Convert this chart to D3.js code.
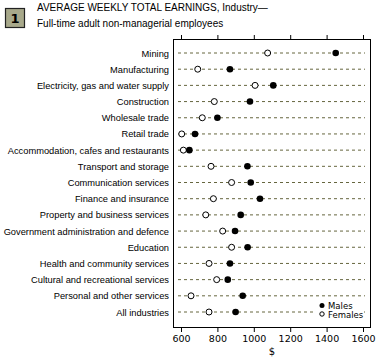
<!DOCTYPE html>
<html>
<head>
<meta charset="utf-8">
<script src="https://cdn.jsdelivr.net/npm/d3@7"></script>
<style>
  body { margin: 0; background: #fff; }
  svg { display: block; }
  .cat { font-family: 'Liberation Sans Narrow', 'Arial Narrow', sans-serif; font-size: 9.3px; }
  .title { font-family: 'Liberation Sans', Arial, sans-serif; font-size: 10px; }
  .tick text { font-family: 'DejaVu Sans', sans-serif; font-size: 9.5px; }
</style>
</head>
<body>
<svg width="378" height="359"></svg>
<script>
const svg = d3.select('svg');

const industries = [
  'Mining', 'Manufacturing', 'Electricity, gas and water supply', 'Construction',
  'Wholesale trade', 'Retail trade', 'Accommodation, cafes and restaurants',
  'Transport and storage', 'Communication services', 'Finance and insurance',
  'Property and business services', 'Government administration and defence',
  'Education', 'Health and community services', 'Cultural and recreational services',
  'Personal and other services', 'All industries'
];
const males = [1450, 869, 1107, 979, 800, 677, 646, 965, 983, 1034, 928, 897, 966, 869, 857, 939, 900];
const females = [1076, 692, 1007, 783, 717, 604, 613, 765, 878, 778, 736, 829, 878, 754, 796, 655, 754];
const xTicks = [600, 800, 1000, 1200, 1400, 1600];

const margin = { top: 39, left: 173, right: 7, bottom: 31 };
const innerWidth = 378 - margin.left - margin.right;
const innerHeight = 359 - margin.top - margin.bottom;

const xScale = d3.scaleLinear().domain([600, 1600]).range([8, 190]);
const yScale = d3.scalePoint().domain(industries).range([14, 273]);

// badge + title
svg.append('rect')
  .attr('x', 5.5).attr('y', 8.5).attr('width', 19).attr('height', 19)
  .attr('fill', '#a8a98b').attr('stroke', '#222').attr('stroke-width', 1.2);
svg.append('text')
  .attr('x', 15).attr('y', 23)
  .attr('text-anchor', 'middle')
  .attr('font-family', 'DejaVu Sans, sans-serif')
  .attr('font-weight', 'bold').attr('font-size', 13)
  .text('1');
svg.append('text').attr('class', 'title')
  .attr('x', 37).attr('y', 11)
  .text('AVERAGE WEEKLY TOTAL EARNINGS, Industry\u2014');
svg.append('text').attr('class', 'title')
  .attr('x', 37).attr('y', 27)
  .text('Full-time adult non-managerial employees');

const g = svg.append('g')
  .attr('transform', `translate(${margin.left},${margin.top})`);

g.append('rect')
  .attr('x', 0.5).attr('y', 0.5)
  .attr('width', innerWidth - 1).attr('height', innerHeight - 1)
  .attr('fill', 'none').attr('stroke', '#000');

// top ticks
g.append('g')
  .call(d3.axisTop(xScale).tickValues(xTicks).tickSize(4).tickFormat(''))
  .call(s => s.select('.domain').remove());

// bottom axis
g.append('g')
  .attr('transform', `translate(0,${innerHeight})`)
  .call(d3.axisBottom(xScale).tickValues(xTicks).tickSize(4).tickPadding(3).tickFormat(d3.format('d')))
  .call(s => s.select('.domain').remove());

g.append('text')
  .attr('x', xScale(1100)).attr('y', innerHeight + 27)
  .attr('text-anchor', 'middle')
  .attr('font-family', 'DejaVu Sans, sans-serif').attr('font-size', 10)
  .text('$');

// dashed guides
g.selectAll('.guide').data(industries).enter().append('line')
  .attr('class', 'guide')
  .attr('x1', 5).attr('x2', innerWidth - 6)
  .attr('y1', d => yScale(d)).attr('y2', d => yScale(d))
  .attr('stroke', '#66663f').attr('stroke-width', 1)
  .attr('stroke-dasharray', '3,3');

// category labels
g.selectAll('.cat').data(industries).enter().append('text')
  .attr('class', 'cat')
  .attr('x', -4).attr('y', d => yScale(d) + 3.5)
  .attr('text-anchor', 'end')
  .text(d => d);

// females (open)
g.selectAll('.f').data(females).enter().append('circle')
  .attr('cx', d => xScale(d)).attr('cy', (d, i) => yScale(industries[i]))
  .attr('r', 3).attr('fill', '#fff').attr('stroke', '#000').attr('stroke-width', 1);

// males (filled)
g.selectAll('.m').data(males).enter().append('circle')
  .attr('cx', d => xScale(d)).attr('cy', (d, i) => yScale(industries[i]))
  .attr('r', 3.3).attr('fill', '#000');

// legend
const legend = g.append('g').attr('transform', 'translate(149,266.5)');
legend.append('rect').attr('x', -6).attr('y', -6).attr('width', 45).attr('height', 20).attr('fill', '#fff');
legend.append('circle').attr('cx', 0).attr('cy', 0).attr('r', 2.5).attr('fill', '#000');
legend.append('circle').attr('cx', 0).attr('cy', 8.5).attr('r', 2.2).attr('fill', '#fff').attr('stroke', '#000');
legend.append('text').attr('x', 6).attr('y', 3.5)
  .attr('font-family', 'DejaVu Sans, sans-serif').attr('font-size', 8.5).text('Males');
legend.append('text').attr('x', 6).attr('y', 12)
  .attr('font-family', 'DejaVu Sans, sans-serif').attr('font-size', 8.5).text('Females');
</script>
</body>
</html>
